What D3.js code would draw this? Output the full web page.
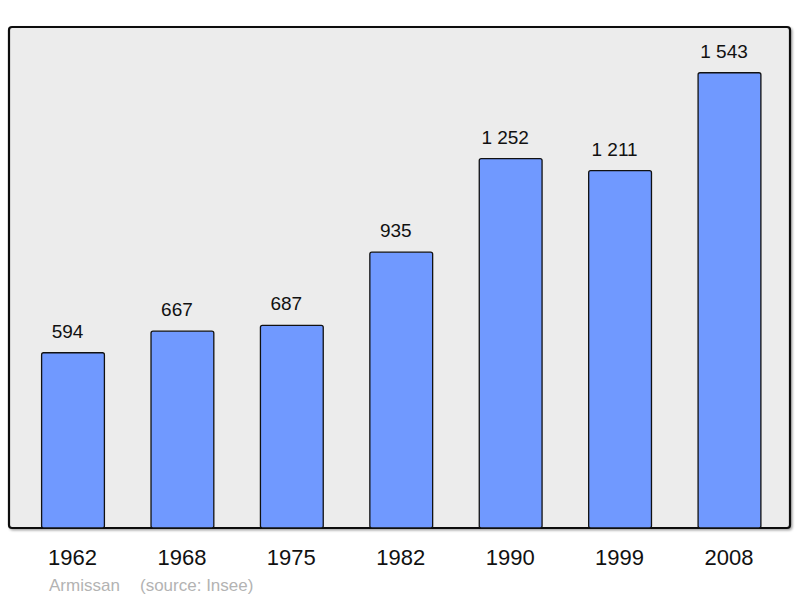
<!DOCTYPE html>
<html><head><meta charset="utf-8">
<script src="https://cdn.jsdelivr.net/npm/d3@7"></script>
<style>body{margin:0;background:#fff}svg{display:block}</style>
</head><body>
<script>
const years = ["1962","1968","1975","1982","1990","1999","2008"];
const population = [594, 667, 687, 935, 1252, 1211, 1543];
const valueLabels = ["594","667","687","935","1 252","1 211","1 543"];
const commune = "Armissan";
const sourceText = "(source: Insee)";

const W = 800, H = 598;
const svg = d3.select("body").append("svg").attr("width", W).attr("height", H);
const font = "'Liberation Sans', Arial, sans-serif";

const frame = {x: 9, y: 27, w: 781, h: 501};
const defs = svg.append("defs");
const f = defs.append("filter").attr("id","sh").attr("x","-5%").attr("y","-5%").attr("width","110%").attr("height","110%");
f.append("feDropShadow").attr("dx",1.5).attr("dy",1.5).attr("stdDeviation",1).attr("flood-color","#000").attr("flood-opacity",0.35);

svg.append("rect").attr("x", frame.x).attr("y", frame.y).attr("width", frame.w).attr("height", frame.h)
  .attr("rx", 3).attr("fill", "#ececec").attr("stroke", "#111").attr("stroke-width", 2.2).attr("filter","url(#sh)");

const x = d3.scaleBand().domain(years).range([18.3, 784.2]).padding(0);
const y = d3.scaleLinear().domain([0, 1698]).range([528, 27]);
const bw = x.bandwidth() * 0.574;

const g = svg.append("g");
g.selectAll("rect.bar").data(years).join("rect").attr("class","bar")
  .attr("x", d => x(d) + (x.bandwidth() - bw) / 2)
  .attr("y", (d, i) => y(population[i]))
  .attr("width", bw)
  .attr("height", (d, i) => y(0) - y(population[i]))
  .attr("rx", 2)
  .attr("fill", "#7099ff").attr("stroke", "#111").attr("stroke-width", 1.3);

g.selectAll("text.val").data(years).join("text").attr("class","val")
  .attr("x", d => x(d) + x.bandwidth() / 2 - 5.5)
  .attr("y", (d, i) => y(population[i]) - 15)
  .attr("text-anchor", "middle").attr("font-family", font).attr("font-size", 19).attr("fill", "#111")
  .text((d, i) => valueLabels[i]);

g.selectAll("text.yr").data(years).join("text").attr("class","yr")
  .attr("x", d => x(d) + x.bandwidth() / 2 - 0.5)
  .attr("y", 565)
  .attr("text-anchor", "middle").attr("font-family", font).attr("font-size", 22).attr("fill", "#111")
  .text(d => d);

svg.append("text").attr("x", 49).attr("y", 590.5).attr("font-family", font).attr("font-size", 17)
  .attr("fill", "#b3b3b3").text(commune);
svg.append("text").attr("x", 140).attr("y", 590.5).attr("font-family", font).attr("font-size", 17)
  .attr("fill", "#b3b3b3").text(sourceText);
</script>
</body></html>
